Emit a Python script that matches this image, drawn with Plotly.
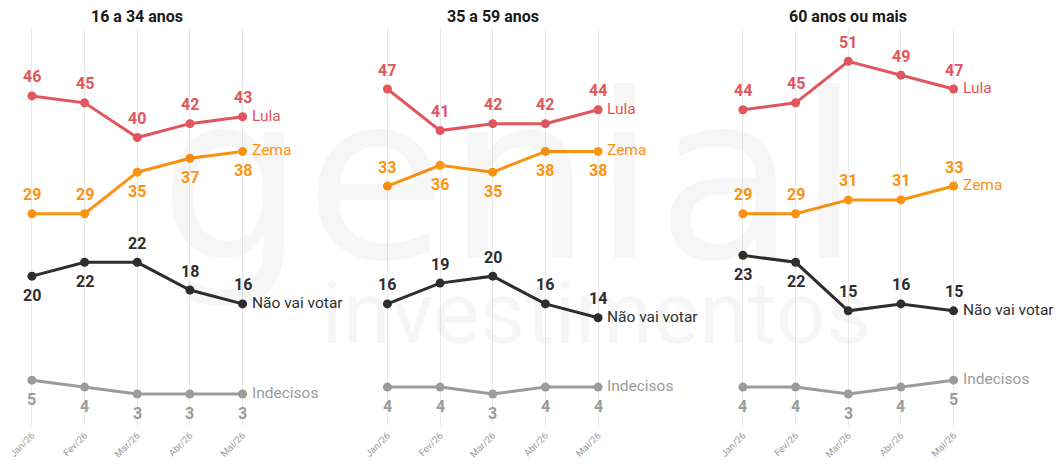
import plotly.graph_objects as go
from plotly.subplots import make_subplots

# Survey months and age groups
months = ["Jan/26", "Fev/26", "Mar/26", "Abr/26", "Mai/26"]
groups = ["16 a 34 anos", "35 a 59 anos", "60 anos ou mais"]

# Vote intention (%) per age group, one list per group
lula = [[46, 45, 40, 42, 43], [47, 41, 42, 42, 44], [44, 45, 51, 49, 47]]
zema = [[29, 29, 35, 37, 38], [33, 36, 35, 38, 38], [29, 29, 31, 31, 33]]
nao_vota = [[20, 22, 22, 18, 16], [16, 19, 20, 16, 14], [23, 22, 15, 16, 15]]
indecisos = [[5, 4, 3, 3, 3], [4, 4, 3, 4, 4], [4, 4, 3, 4, 5]]

series = [
    ("Lula", lula, "#e0565c"),
    ("Zema", zema, "#fb9312"),
    ("Não vai votar", nao_vota, "#2e2e2e"),
    ("Indecisos", indecisos, "#9b9b9b"),
]

# Where each value label sits relative to its point: +1 above, -1 below
label_side = {
    "Lula": [[1] * 5, [1] * 5, [1] * 5],
    "Zema": [[1, 1, -1, -1, -1], [1, -1, -1, -1, -1], [1] * 5],
    "Não vai votar": [[-1, -1, 1, 1, 1], [1] * 5, [-1, -1, 1, 1, 1]],
    "Indecisos": [[-1] * 5, [-1] * 5, [-1] * 5],
}

FONT = "Roboto"
W, H = 1061, 466
step = 356.5
x_lo, x_hi = 7.9, 335.3

fig = make_subplots(rows=1, cols=3)

annotations = []

# Faint brand watermark behind the panels
annotations.append(dict(
    text="genial", xref="paper", yref="paper", x=508 / W, y=1 - 272 / H,
    xanchor="center", yanchor="bottom", yshift=-42, showarrow=False,
    font=dict(family="DejaVu Sans", size=230, color="rgba(0,0,0,0.035)"),
))
annotations.append(dict(
    text="investimentos", xref="paper", yref="paper", x=595 / W, y=1 - 348 / H,
    xanchor="center", yanchor="bottom", yshift=-18, showarrow=False,
    font=dict(family=FONT, size=88, color="rgba(0,0,0,0.035)"),
))

for g, title in enumerate(groups):
    col = g + 1
    xa = "x" if g == 0 else f"x{col}"
    ya = "y" if g == 0 else f"y{col}"
    for name, data, color in series:
        vals = data[g]
        fig.add_trace(
            go.Scatter(
                x=months, y=vals, mode="lines+markers",
                line=dict(color=color, width=3),
                marker=dict(color=color, size=9),
                cliponaxis=False, showlegend=False, hoverinfo="skip",
            ),
            row=1, col=col,
        )
        sides = label_side[name][g]
        for m, v, s in zip(months, vals, sides):
            annotations.append(dict(
                x=m, y=v, xref=xa, yref=ya, text=str(v), showarrow=False,
                yshift=19 * s, xanchor="center", yanchor="middle",
                font=dict(family=FONT, size=16, color=color, weight="bold"),
            ))
        # Series name to the right of the last point
        annotations.append(dict(
            x=months[-1], y=vals[-1], xref=xa, yref=ya, text=name,
            showarrow=False, xanchor="left", yanchor="middle", xshift=7, yshift=1,
            font=dict(family=FONT, size=15.5, color=color),
        ))
    # Panel title above the middle month
    annotations.append(dict(
        x=months[2], y=1 - 16 / H, xref=xa, yref="paper", text=f"<b>{title}</b>",
        showarrow=False, xanchor="center", yanchor="middle",
        font=dict(family=FONT, size=16, color="#1a1a1a"),
    ))

    x0 = (x_lo + g * step) / W
    x1 = (x_hi + g * step) / W
    fig.update_xaxes(
        domain=[x0, x1], range=[-0.4, 5.8], type="category",
        categoryorder="array", categoryarray=months,
        showgrid=True, gridcolor="#e9e9e9", gridwidth=1,
        showline=False, zeroline=False, ticks="",
        tickangle=-45, tickfont=dict(family=FONT, size=9.5, color="#9a9a9a"),
        row=1, col=col,
    )
    fig.update_yaxes(
        domain=[1 - 427 / H, 1 - 28 / H], range=[-1.76, 55.8],
        showgrid=False, showticklabels=False, zeroline=False, showline=False,
        row=1, col=col,
    )

fig.update_layout(
    width=W, height=H, margin=dict(l=0, r=0, t=0, b=0),
    paper_bgcolor="white", plot_bgcolor="white",
    annotations=annotations, font=dict(family=FONT),
)

fig.write_html("out.html")
